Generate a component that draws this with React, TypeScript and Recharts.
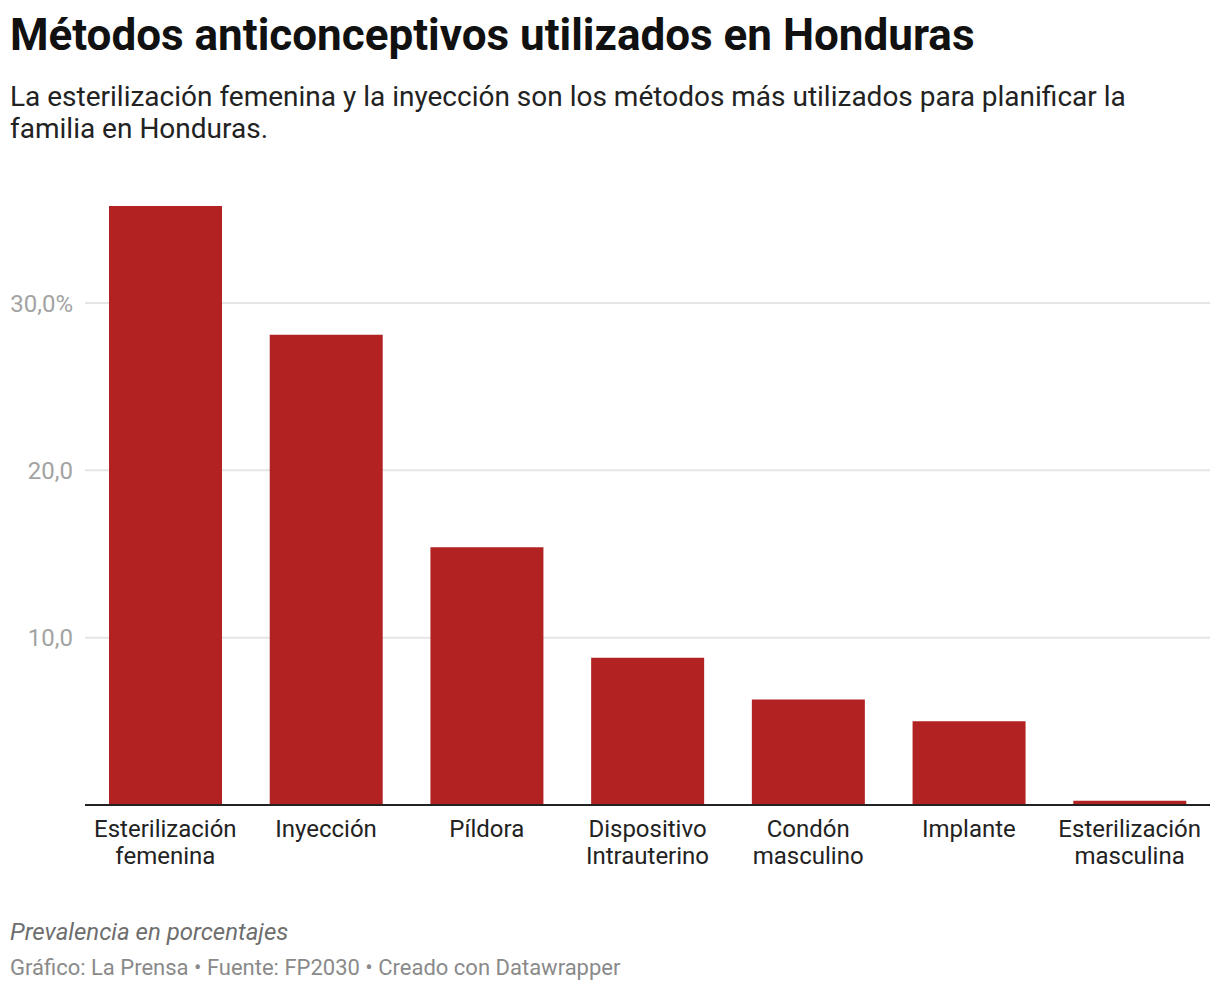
import React from "react";
import { BarChart, Bar, XAxis, YAxis, CartesianGrid } from "recharts";

const categories = [
  "Esterilización\nfemenina",
  "Inyección",
  "Píldora",
  "Dispositivo\nIntrauterino",
  "Condón\nmasculino",
  "Implante",
  "Esterilización\nmasculina",
];
const prevalence = [35.8, 28.1, 15.4, 8.8, 6.3, 5.0, 0.25];
const yTicks = [10, 20, 30];
const yTickLabels = ["10,0", "20,0", "30,0%"];

const data = categories.map((c, i) => ({ name: c, value: prevalence[i] }));

const FONT = "Roboto, 'Noto Sans', sans-serif";

const XTick = (props: any) => {
  const { x, y, payload } = props;
  const lines = String(payload.value).split("\n");
  return (
    <text x={x} y={y + 32} textAnchor="middle" fill="#222" fontSize={24} fontFamily={FONT}>
      {lines.map((l: string, i: number) => (
        <tspan key={i} x={x} dy={i === 0 ? 0 : 27}>
          {l}
        </tspan>
      ))}
    </text>
  );
};

export default function App() {
  return (
    <div
      style={{
        position: "absolute",
        left: 0,
        top: 0,
        width: 1220,
        height: 992,
        background: "#fff",
        fontFamily: FONT,
        overflow: "hidden",
      }}
    >
      <div
        style={{
          position: "absolute",
          left: 10,
          top: 8.5,
          fontSize: 44,
          lineHeight: "52px",
          fontWeight: 700,
          color: "#111",
          whiteSpace: "nowrap",
        }}
      >
        Métodos anticonceptivos utilizados en Honduras
      </div>
      <div
        style={{
          position: "absolute",
          left: 10,
          top: 80.9,
          fontSize: 28,
          lineHeight: "32px",
          color: "#222",
          whiteSpace: "nowrap",
        }}
      >
        La esterilización femenina y la inyección son los métodos más utilizados para planificar la
        <br />
        familia en Honduras.
      </div>
      <div style={{ position: "absolute", left: 0, top: 0 }}>
        <BarChart
          width={1220}
          height={992}
          data={data}
          margin={{ top: 202.6, right: 10, bottom: 127, left: 0 }}
        >
          <CartesianGrid
            vertical={false}
            stroke="#e5e5e5"
            strokeWidth={2}
            horizontalValues={yTicks}
          />
          <YAxis
            type="number"
            domain={[0, 36]}
            ticks={yTicks}
            width={85}
            axisLine={false}
            tickLine={false}
            tickSize={0}
            tickMargin={12}
            tickFormatter={(v: number) => yTickLabels[yTicks.indexOf(v)] ?? String(v)}
            tick={{ fill: "#a3a3a3", fontSize: 24, fontFamily: FONT }}
          />
          <XAxis
            dataKey="name"
            height={60}
            interval={0}
            tickLine={false}
            tickSize={0}
            tickMargin={0}
            axisLine={{ stroke: "#222", strokeWidth: 2 }}
            tick={<XTick />}
          />
          <Bar dataKey="value" fill="#b22222" barSize={113} isAnimationActive={false} />
        </BarChart>
      </div>
      <div
        style={{
          position: "absolute",
          left: 10,
          top: 917.8,
          fontSize: 24,
          lineHeight: "28px",
          fontStyle: "italic",
          color: "#6e6e6e",
          whiteSpace: "nowrap",
        }}
      >
        Prevalencia en porcentajes
      </div>
      <div
        style={{
          position: "absolute",
          left: 10,
          top: 954.5,
          fontSize: 22,
          lineHeight: "26px",
          color: "#8a8a8a",
          whiteSpace: "nowrap",
        }}
      >
        Gráfico: La Prensa • Fuente: FP2030 • Creado con Datawrapper
      </div>
    </div>
  );
}
